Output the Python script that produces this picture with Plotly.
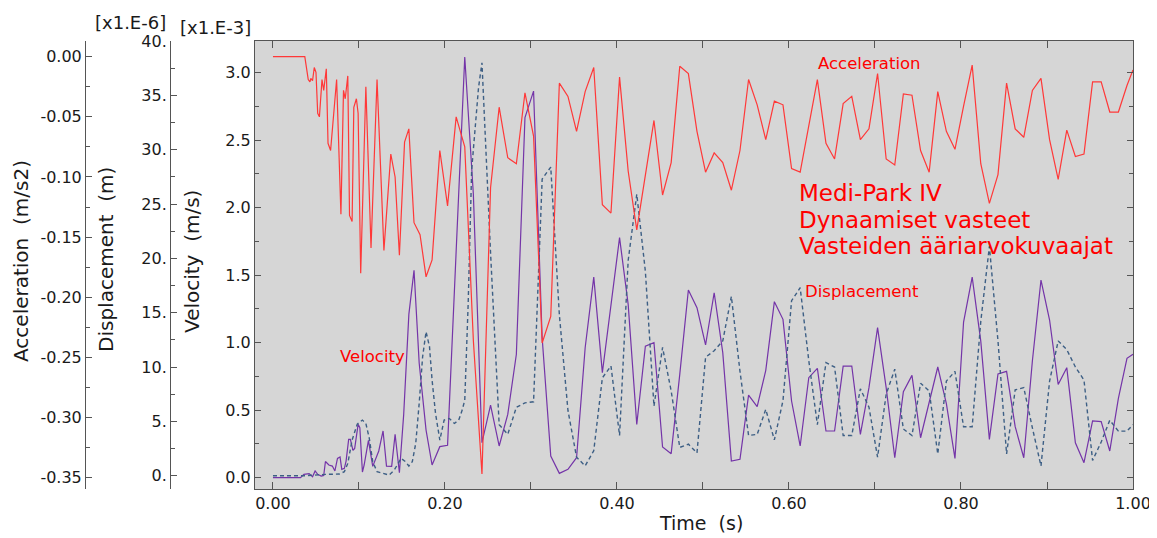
import plotly.graph_objects as go

# ---------------- data ----------------
# common output grid after t = 0.24 s
time_grid = [0.243, 0.253, 0.263, 0.273, 0.283, 0.293, 0.303, 0.313, 0.323, 0.333,
             0.343, 0.353, 0.363, 0.373, 0.383, 0.393, 0.403, 0.413, 0.423, 0.433,
             0.443, 0.453, 0.463, 0.473, 0.483, 0.493, 0.503, 0.513, 0.523, 0.533,
             0.543, 0.553, 0.563, 0.573, 0.583, 0.593, 0.603, 0.613, 0.623, 0.633,
             0.643, 0.653, 0.663, 0.673, 0.683, 0.693, 0.703, 0.713, 0.723, 0.733,
             0.743, 0.753, 0.763, 0.773, 0.783, 0.793, 0.803, 0.813, 0.823, 0.833,
             0.843, 0.853, 0.863, 0.873, 0.883, 0.893, 0.903, 0.913, 0.923, 0.933,
             0.943, 0.953, 0.963, 0.973, 0.983, 0.993, 1.0]

# Acceleration (m/s2)
acc_time_early = [0.0, 0.037, 0.041, 0.043, 0.044, 0.046, 0.048, 0.050, 0.052, 0.054,
                  0.057, 0.059, 0.062, 0.064, 0.067, 0.074, 0.079, 0.082, 0.084, 0.087,
                  0.089, 0.092, 0.094, 0.097, 0.099, 0.102, 0.108, 0.114, 0.121, 0.129,
                  0.137, 0.142, 0.147, 0.153, 0.158, 0.164, 0.171, 0.178, 0.185, 0.194,
                  0.203, 0.213, 0.223, 0.233]
acc_early = [0.0, 0.0, -0.019, -0.021, -0.018, -0.020, -0.009, -0.013, -0.047, -0.050,
             -0.019, -0.028, -0.010, -0.072, -0.078, -0.019, -0.131, -0.028, -0.035, -0.016,
             -0.132, -0.137, -0.042, -0.035, -0.047, -0.180, -0.025, -0.159, -0.019, -0.161,
             -0.081, -0.100, -0.165, -0.071, -0.060, -0.138, -0.148, -0.183, -0.169, -0.078,
             -0.124, -0.050, -0.075, -0.236]
acc_late = [-0.347, -0.109, -0.042, -0.084, -0.089, -0.030, -0.066, -0.238, -0.216, -0.022,
            -0.033, -0.062, -0.029, -0.009, -0.123, -0.130, -0.017, -0.095, -0.144, -0.098,
            -0.053, -0.115, -0.088, -0.008, -0.014, -0.062, -0.096, -0.080, -0.088, -0.111,
            -0.078, -0.019, -0.040, -0.069, -0.037, -0.040, -0.093, -0.096, -0.056, -0.019,
            -0.072, -0.085, -0.039, -0.033, -0.069, -0.060, -0.014, -0.085, -0.090, -0.031,
            -0.032, -0.078, -0.096, -0.029, -0.062, -0.077, -0.041, -0.007, -0.089, -0.122,
            -0.098, -0.022, -0.060, -0.067, -0.028, -0.018, -0.069, -0.102, -0.061, -0.083,
            -0.081, -0.021, -0.021, -0.046, -0.046, -0.024, -0.011]

# Velocity (x1.E-3 m/s)
vel_time_early = [0.0, 0.032, 0.036, 0.042, 0.046, 0.049, 0.052, 0.056, 0.059, 0.061,
                  0.065, 0.069, 0.072, 0.075, 0.078, 0.080, 0.083, 0.085, 0.088, 0.090,
                  0.093, 0.095, 0.099, 0.101, 0.104, 0.106, 0.111, 0.116, 0.123, 0.128,
                  0.132, 0.138, 0.142, 0.147, 0.152, 0.158, 0.164, 0.170, 0.178, 0.185,
                  0.194, 0.203, 0.223, 0.233]
vel_early = [0.0, 0.0, 0.025, 0.030, 0.007, 0.050, 0.025, 0.012, 0.017, 0.120,
             0.094, 0.086, 0.050, 0.143, 0.153, 0.062, 0.069, 0.123, 0.284, 0.284,
             0.202, 0.217, 0.395, 0.370, 0.042, 0.094, 0.277, 0.084, 0.198, 0.346,
             0.086, 0.084, 0.321, 0.037, 0.469, 1.210, 1.536, 0.850, 0.353, 0.094,
             0.230, 0.240, 3.116, 2.100]
vel_late = [0.259, 0.538, 0.235, 0.469, 0.914, 2.667, 2.864, 1.037, 0.160, 0.032,
            0.062, 0.148, 0.963, 1.486, 0.778, 1.259, 1.778, 1.284, 0.395, 0.975,
            1.000, 0.227, 0.178, 0.765, 1.390, 1.259, 0.983, 1.370, 0.926, 0.123,
            0.136, 0.612, 0.526, 0.795, 1.304, 1.173, 0.568, 0.235, 0.741, 0.810,
            0.346, 0.346, 0.827, 0.827, 0.321, 0.667, 1.111, 0.667, 0.148, 0.637,
            0.758, 0.296, 0.560, 0.820, 0.548, 0.143, 1.153, 1.486, 1.012, 0.284,
            0.768, 0.788, 0.378, 0.148, 0.864, 1.464, 1.168, 0.691, 0.815, 0.259,
            0.111, 0.420, 0.415, 0.198, 0.588, 0.884, 0.914]

# Displacement (x1.E-6 m)
disp_time_early = [0.0, 0.038, 0.061, 0.077, 0.083, 0.087, 0.092, 0.098, 0.104, 0.108,
                   0.112, 0.116, 0.121, 0.135, 0.141, 0.149, 0.154, 0.158, 0.162, 0.166,
                   0.170, 0.174, 0.178, 0.182, 0.185, 0.189, 0.194, 0.199, 0.205, 0.211,
                   0.216, 0.220, 0.223, 0.227, 0.231, 0.235, 0.239]
disp_early = [0.0, 0.0, 0.12, 0.15, 0.37, 1.13, 3.28, 4.75, 5.12, 4.81,
              3.43, 1.29, 0.37, 0.06, 0.52, 1.59, 1.29, 0.89, 1.29, 2.97,
              6.65, 10.95, 13.25, 11.87, 8.80, 5.73, 3.28, 5.12, 5.27, 4.81,
              5.12, 6.04, 6.96, 15.9, 28.1, 32.3, 35.7]
disp_late = [38.0, 20.5, 4.7, 3.8, 6.3, 6.7, 6.8, 27.3, 28.4, 14.8,
             6.0, 1.7, 0.9, 2.3, 9.0, 10.1, 3.7, 19.8, 25.9, 18.8,
             6.4, 11.8, 7.8, 2.6, 2.9, 2.1, 10.9, 11.5, 12.4, 16.5,
             9.6, 3.7, 3.8, 6.1, 3.3, 6.9, 16.1, 17.3, 10.6, 4.7,
             10.4, 10.0, 3.7, 3.7, 8.0, 6.3, 1.7, 7.5, 9.8, 4.3,
             3.7, 8.5, 7.8, 2.0, 8.7, 9.6, 4.5, 4.5, 14.2, 21.1,
             12.4, 2.0, 7.9, 8.1, 4.4, 0.9, 8.7, 12.4, 11.6, 10.0,
             8.8, 1.4, 3.1, 5.1, 4.1, 4.1, 4.7]

# tick labels
x_ticks = [0.0, 0.2, 0.4, 0.6, 0.8, 1.0]
x_ticktext = ["0.00", "0.20", "0.40", "0.60", "0.80", "1.00"]
vel_ticks = [0.0, 0.5, 1.0, 1.5, 2.0, 2.5, 3.0]
vel_ticktext = ["0.0", "0.5", "1.0", "1.5", "2.0", "2.5", "3.0"]
disp_ticks = [0, 5, 10, 15, 20, 25, 30, 35, 40]
disp_ticktext = ["0.", "5.", "10.", "15.", "20.", "25.", "30.", "35.", "40."]
acc_ticks = [0.0, -0.05, -0.10, -0.15, -0.20, -0.25, -0.30, -0.35]
acc_ticktext = ["0.00", "-0.05", "-0.10", "-0.15", "-0.20", "-0.25", "-0.30", "-0.35"]

acc_t = acc_time_early + time_grid
acc = acc_early + acc_late
vel_t = vel_time_early + time_grid
vel = vel_early + vel_late
disp_t = disp_time_early + time_grid
disp = disp_early + disp_late

# ---------------- layout geometry ----------------
OFF = 8                      # page body margin
W, H = 1157 - OFF, 538 - OFF
ML, MR, MT, MB = 2, 24, 33, 49
PW = W - ML - MR
PH = H - MT - MB


def px(x):
    return (x - OFF - ML) / PW


def py(y):
    return (H - MB - (y - OFF)) / PH


FONT = "DejaVu Sans"
AX = "#555555"
TXT = "#1a1a1a"

fig = go.Figure()
fig.add_trace(go.Scatter(x=vel_t, y=vel, mode="lines", yaxis="y",
                         line=dict(color="#7434a8", width=1.2), name="Velocity"))
fig.add_trace(go.Scatter(x=disp_t, y=disp, mode="lines", yaxis="y2",
                         line=dict(color="#3d5f85", width=1.4, dash="4px,3px"), name="Displacement"))
fig.add_trace(go.Scatter(x=acc_t, y=acc, mode="lines", yaxis="y3",
                         line=dict(color="#ff3838", width=1.2), name="Acceleration"))

tickfont = dict(family=FONT, size=16, color=TXT)

fig.update_layout(
    width=W, height=H,
    margin=dict(l=ML, r=MR, t=MT, b=MB),
    paper_bgcolor="white",
    plot_bgcolor="#d6d6d6",
    showlegend=False,
    font=dict(family=FONT, size=16, color=TXT),
    xaxis=dict(
        domain=[px(255), 1.0], range=[-0.0209, 1.0],
        showline=True, linecolor=AX, linewidth=1, mirror="allticks",
        ticks="inside", ticklen=7, tickcolor=AX, tickwidth=1,
        tickmode="array", tickvals=x_ticks, ticktext=x_ticktext,
        minor=dict(tickmode="array", tickvals=[0.1, 0.3, 0.5, 0.7, 0.9],
                   ticks="inside", ticklen=4, tickcolor=AX),
        tickfont=tickfont, showgrid=False, zeroline=False,
    ),
    yaxis=dict(
        domain=[0, 1], range=[-0.0837, 3.2348],
        showline=True, linecolor=AX, linewidth=1, mirror="allticks",
        ticks="inside", ticklen=6, tickcolor=AX,
        tickmode="array", tickvals=vel_ticks, ticktext=vel_ticktext,
        minor=dict(tickmode="array", tickvals=[0.25, 0.75, 1.25, 1.75, 2.25, 2.75],
                   ticks="inside", ticklen=4, tickcolor=AX),
        tickfont=tickfont, showgrid=False, zeroline=False,
    ),
    yaxis2=dict(
        overlaying="y", anchor="free", position=px(170), side="left",
        range=[-1.224, 40.0],
        showline=True, linecolor=AX, linewidth=1,
        ticks="inside", ticklen=6, tickcolor=AX,
        tickmode="array", tickvals=disp_ticks, ticktext=disp_ticktext,
        minor=dict(tickmode="array", tickvals=[2.5, 7.5, 12.5, 17.5, 22.5, 27.5, 32.5, 37.5],
                   ticks="inside", ticklen=4, tickcolor=AX),
        tickfont=tickfont, showgrid=False, zeroline=False,
    ),
    yaxis3=dict(
        overlaying="y", anchor="free", position=px(85), side="left",
        range=[-0.3594, 0.01305],
        showline=True, linecolor=AX, linewidth=1,
        ticks="inside", ticklen=6, tickcolor=AX,
        tickmode="array", tickvals=acc_ticks, ticktext=acc_ticktext,
        minor=dict(tickmode="array",
                   tickvals=[-0.025, -0.075, -0.125, -0.175, -0.225, -0.275, -0.325],
                   ticks="inside", ticklen=4, tickcolor=AX),
        tickfont=tickfont, showgrid=False, zeroline=False,
    ),
)

ann = []


def text(x, y, s, size=16, color=TXT, angle=0, xanchor="center"):
    ann.append(dict(x=px(x), y=py(y), xref="paper", yref="paper", text=s,
                    showarrow=False, textangle=angle, xanchor=xanchor, yanchor="middle",
                    font=dict(family=FONT, size=size, color=color)))


# axis titles and scale factors
text(21, 261, "Acceleration  (m/s2)", size=20, angle=-90)
text(106, 260, "Displacement  (m)", size=20, angle=-90)
text(192, 262, "Velocity  (m/s)", size=20, angle=-90)
text(701, 523, "Time  (s)", size=19)
text(130, 22, "[x1.E-6]", size=18)
text(215, 28, "[x1.E-3]", size=18)

# curve labels and title block
RED = "#ff0000"
text(869, 63, "Acceleration", size=16.5, color=RED)
text(862, 291, "Displacement", size=16.5, color=RED)
text(372, 356, "Velocity", size=16.5, color=RED)
text(797, 193, "Medi-Park IV", size=23, color=RED, xanchor="left")
text(797, 220, "Dynaamiset vasteet", size=23, color=RED, xanchor="left")
text(797, 246, "Vasteiden ääriarvokuvaajat", size=23, color=RED, xanchor="left")

fig.update_layout(annotations=ann)

fig.write_html("out.html")
